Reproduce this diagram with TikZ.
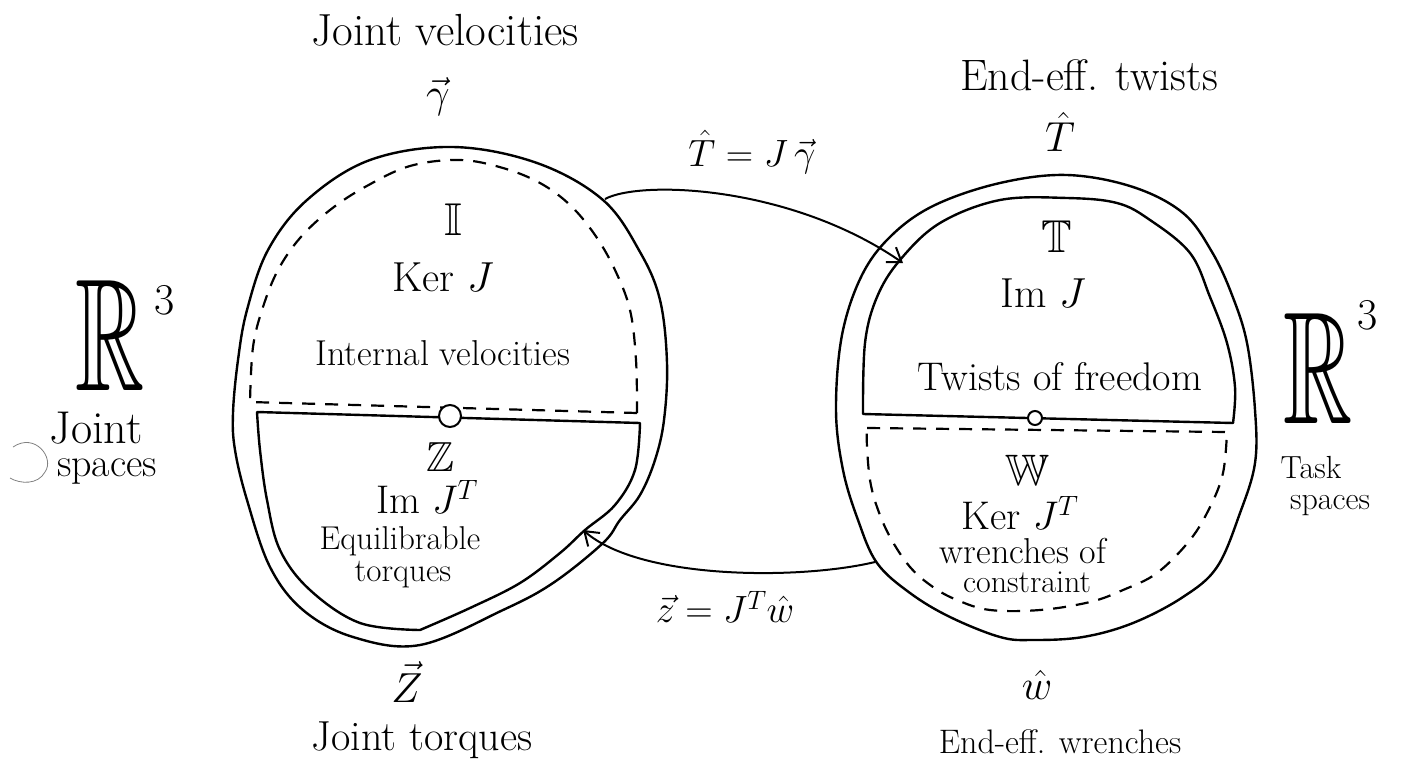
\RequirePackage{fix-cm}
\documentclass[tikz,border=0pt]{standalone}
\usepackage{amssymb}
\usepackage{graphicx}
\usetikzlibrary{arrows.meta}
\tikzset{
  shapeline/.style={line width=2.4pt, line join=round, line cap=round},
  dashline/.style={line width=2.2pt, dash pattern=on 13pt off 10pt},
  conn/.style={line width=2pt, -{Straight Barb[length=13pt,width=18pt,line width=2pt]}},
  txt/.style={inner sep=0pt, font=\fontsize{#1}{#1}\selectfont},
  txt/.default=36,
  hub/.style={circle, draw, fill=white, line width=2pt, inner sep=0pt},
}
\begin{document}
\begin{tikzpicture}[x=1pt,y=-1pt]
\useasboundingbox (0,0) rectangle (1423,776);

% ---------------- left space (joint space) ----------------
\draw[shapeline] plot[smooth cycle, tension=0.6] coordinates {
  (453,147) (537,163) (603,200) (640,252) (660,300) (667,363) (664,420)
  (655,460) (640,495) (620,520) (603,543) (553,583) (503,610) (420,645)
  (353,637) (303,610) (270,567) (247,500) (235,450) (233,413) (238,360)
  (247,310) (268,250) (307,200) (370,160)};
% upper dashed region (Ker J)
\draw[dashline] (637,413) -- (250,402) -- plot[smooth, tension=0.6] coordinates {
  (250,402) (253,347) (263,307) (278,270) (300,238) (330,210) (365,187)
  (410,166) (460,160) (503,168) (540,183) (570,205) (595,235)
  (615,270) (630,310) (636,360) (637,413)};
% lower solid region (Im J^T)
\draw[shapeline] (257,412) -- (640,423) -- plot[smooth, tension=0.6] coordinates {
  (640,423) (635,470) (615,505) (585,530) (560,553) (520,583) (470,608) (420,630)}
  -- plot[smooth, tension=0.6] coordinates {
  (420,630) (360,623) (310,590) (280,550) (267,500) (260,450) (257,412)};
\node[hub, minimum size=22pt] (hubL) at (450,416) {};

% ---------------- right space (task space) ----------------
\draw[shapeline] plot[smooth cycle, tension=0.6] coordinates {
  (1067,175) (1133,187) (1183,213) (1212,252) (1232,295) (1247,343) (1255,410)
  (1255,463) (1240,513) (1217,567) (1183,597) (1133,623) (1083,637) (1033,640)
  (1000,637) (950,617) (910,593) (877,563) (858,520) (843,470) (836,410)
  (842,335) (862,275) (892,235) (935,205) (1000,183)};
% upper solid region (Im J)
\draw[shapeline] (863,414) -- (1233,423) -- plot[smooth, tension=0.6] coordinates {
  (1233,423) (1235,387) (1227,343) (1210,297) (1190,253) (1150,220) (1117,203)
  (1067,198) (1000,200) (940,223) (900,260) (877,297) (865,343) (863,414)};
% lower dashed region (Ker J^T)
\draw[dashline] (867,428) -- (1227,432) -- plot[smooth, tension=0.6] coordinates {
  (1227,432) (1223,473) (1210,507) (1190,540) (1157,573) (1123,590) (1090,602)
  (1040,610) (990,610) (957,600) (933,587) (910,567) (890,537) (877,507)
  (870,480) (867,447) (867,428)};
\node[hub, minimum size=14pt] (hubR) at (1035,418) {};

% ---------------- connectors ----------------
\coordinate (topStart) at (605,199);
\coordinate (topEnd) at (903,263);
\coordinate (botStart) at (875,562);
\coordinate (botEnd) at (583,530);
\draw[conn] (topStart) .. controls (640,180) and (790,185) .. (topEnd);
\draw[conn] (botStart) .. controls (800,580) and (640,580) .. (botEnd);

% scribble near "spaces"
\draw[gray, line width=0.8pt] (13,447) .. controls (35,432) and (55,458) .. (45,472)
  .. controls (38,485) and (20,484) .. (10,478);

% ---------------- labels ----------------
\node[txt=45] (jv) at (445,30) {Joint velocities};
\node[txt=42] (gam) at (438,97) {$\vec{\gamma}$};
\node[txt=38] (eqT) at (752,152) {$\hat{T} = J\,\vec{\gamma}$};
\node[txt=44] (et) at (1089,75) {End-eff. twists};
\node[txt=42] (That) at (1060,132) {$\hat{T}$};

\node[txt=46] (II) at (453,220) {$\mathbb{I}$};
\node[txt=42] (kerJ) at (443,277) {Ker $J$};
\node[txt=36] (iv) at (443,353) {Internal velocities};
\node[txt=42] (ZZ) at (440,457) {$\mathbb{Z}$};
\node[txt=40] (imJT) at (427,497) {Im $J^T$};
\node[txt=33] (equi) at (400,541) {Equilibrable};
\node[txt=33] (torq) at (403,575) {torques};
\node[txt=42] (Zvec) at (407,682) {$\vec{Z}$};
\node[txt=42] (jt) at (422,740) {Joint torques};
\node[txt=38] (eqW) at (725,607) {$\vec{z} = J^T\hat{w}$};

\node[txt=46] (TT) at (1057,237) {$\mathbb{T}$};
\node[txt=42] (imJ) at (1043,293) {Im $J$};
\node[txt=40] (tof) at (1060,377) {Twists of freedom};
\node[txt=44] (WW) at (1027,470) {$\mathbb{W}$};
\node[txt=40] (kerJT) at (1020,513) {Ker $J^T$};
\node[txt=36] (wo) at (1023,551) {wrenches of};
\node[txt=32] (con) at (1027,582) {constraint};
\node[txt=42] (what) at (1037,685) {$\hat{w}$};
\node[txt=34] (ew) at (1060,742) {End-eff. wrenches};

\node[inner sep=0pt] (RL) at (110,335) {\scalebox{0.6}[1]{\fontsize{160}{160}\selectfont$\mathbb{R}$}};
\node[txt=44] (RL3) at (165,300) {3};
\node[txt=46] (jsA) at (96,428) {Joint};
\node[txt=40] (jsB) at (107,472) {spaces};

\node[inner sep=0pt] (RR) at (1318,368) {\scalebox{0.6}[1]{\fontsize{160}{160}\selectfont$\mathbb{R}$}};
\node[txt=44] (RR3) at (1368,315) {3};
\node[txt=32] (tsA) at (1311,468) {Task};
\node[txt=32] (tsB) at (1330,506) {spaces};
\end{tikzpicture}
\end{document}
